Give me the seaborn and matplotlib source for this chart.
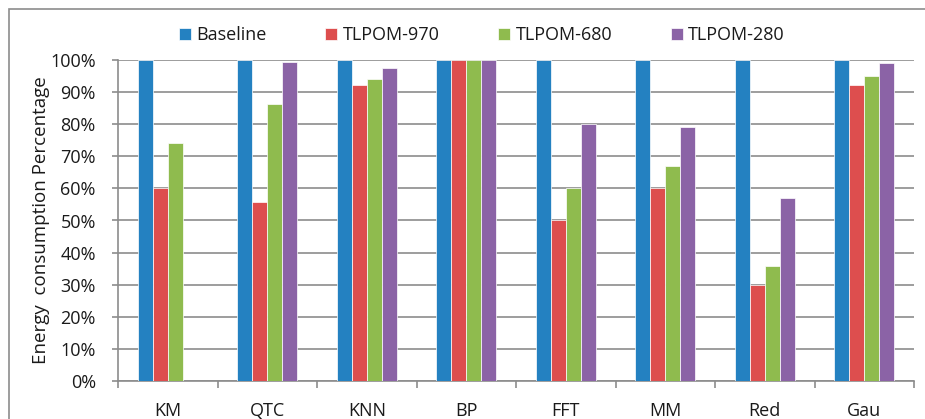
import matplotlib
matplotlib.use("Agg")
import matplotlib.pyplot as plt
import matplotlib.ticker as mticker
from matplotlib.patches import Rectangle
import seaborn as sns
import pandas as pd

# Benchmarks and energy consumption relative to baseline (%)
categories = ["KM", "QTC", "KNN", "BP", "FFT", "MM", "Red", "Gau"]
series_names = ["Baseline", "TLPOM-970", "TLPOM-680", "TLPOM-280"]
baseline = [100, 100, 100, 100, 100, 100, 100, 100]
tlpom_970 = [60.2, 55.8, 92.2, 100, 50.2, 60.2, 30.0, 92.1]
tlpom_680 = [74.2, 86.4, 94.2, 100, 60.2, 67.1, 35.9, 95.0]
tlpom_280 = [0, 99.5, 97.5, 100, 80.2, 79.0, 57.0, 99.1]
colors = ["#2481C1", "#DD4E4E", "#8FBB4E", "#8B63A6"]

rows = []
for name, vals in zip(series_names, [baseline, tlpom_970, tlpom_680, tlpom_280]):
    for cat, v in zip(categories, vals):
        rows.append({"Benchmark": cat, "Config": name, "Value": v})
df = pd.DataFrame(rows)

sns.set_theme(style="white")
plt.rcParams["font.family"] = ["Open Sans", "DejaVu Sans"]

W, H = 925, 419
fs = 13
fig = plt.figure(figsize=(W / 100, H / 100), dpi=100)
ax = fig.add_axes([118 / W, 1 - 381 / H, (914 - 118) / W, (381 - 60) / H])

sns.barplot(data=df, x="Benchmark", y="Value", hue="Config",
            order=categories, hue_order=series_names, palette=colors,
            width=0.6, errorbar=None, saturation=1, ax=ax,
            edgecolor="white", linewidth=0.5, zorder=3)

grid_c = "#8C8C8C"
txt_c = "#1a1a1a"
ax.set_ylim(0, 100)
ax.set_xlim(-0.5, len(categories) - 0.5)
ax.yaxis.set_major_locator(mticker.MultipleLocator(10))
ax.yaxis.set_major_formatter(mticker.FuncFormatter(lambda v, p: f"{v:.0f}%"))
ax.grid(axis="y", color=grid_c, linewidth=1.2, zorder=0)
ax.set_axisbelow(True)

# category boundary ticks on the x axis
ax.set_xticks(range(len(categories)))
ax.set_xticklabels(categories)
ax.xaxis.set_minor_locator(mticker.FixedLocator([i - 0.5 for i in range(len(categories) + 1)]))
ax.tick_params(axis="x", which="major", length=0, pad=15, labelsize=fs, labelcolor=txt_c)
ax.tick_params(axis="x", which="minor", length=5, width=1.2, color=grid_c, direction="out", bottom=True)
ax.tick_params(axis="y", length=4, width=1.2, color=grid_c, direction="out", left=True,
               pad=12, labelsize=fs, labelcolor=txt_c)

for s in ["top", "right"]:
    ax.spines[s].set_visible(False)
for s in ["left", "bottom"]:
    ax.spines[s].set_color(grid_c)
    ax.spines[s].set_linewidth(1.2)

ax.set_xlabel("")
ax.set_ylabel("Energy  consumption Percentage", fontsize=13.5, color=txt_c)
ax.yaxis.set_label_coords(-0.086, 0.5)

handles, labels = ax.get_legend_handles_labels()
ax.legend_.remove()
fig.legend(handles, labels, loc="center", bbox_to_anchor=(482 / W, 1 - 35 / H),
           ncol=4, frameon=False, fontsize=fs, handlelength=0.66, handleheight=0.66,
           handletextpad=0.3, columnspacing=3.25, labelcolor=txt_c)

# outer chart frame
fig.patches.append(Rectangle((9 / W, -0.1), 1.2, 1 - 9 / H + 0.1, transform=fig.transFigure,
                             fill=False, edgecolor="#8C8C8C", linewidth=1.2))

fig.savefig("out.png", dpi=100)
